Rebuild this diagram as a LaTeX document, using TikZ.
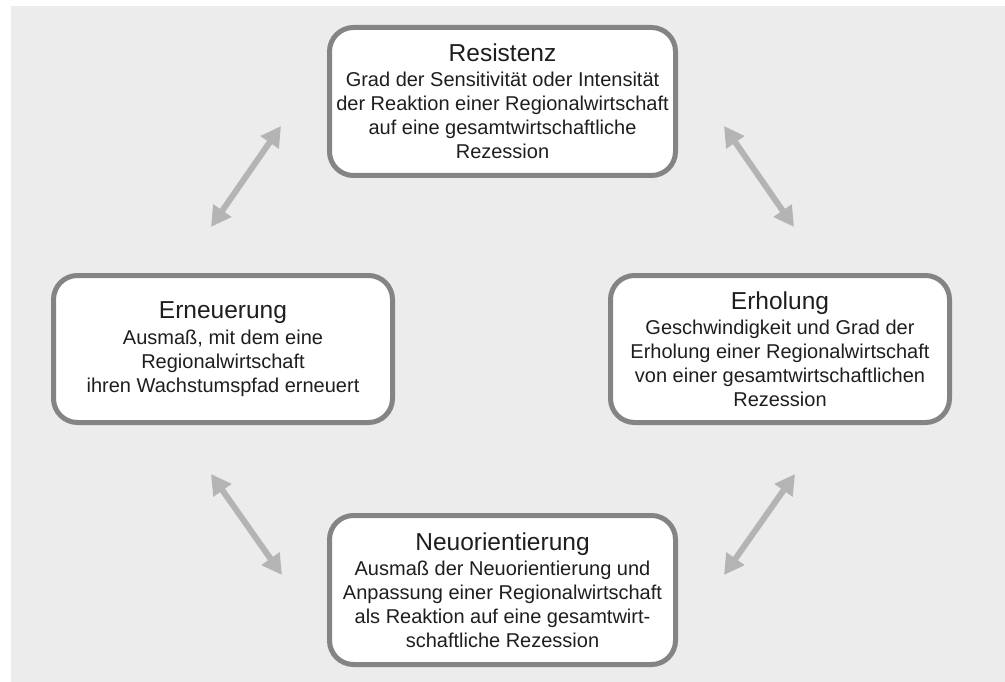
\documentclass[tikz,border=0pt]{standalone}
\usepackage{fontspec}
\setmainfont{Liberation Sans}
\usetikzlibrary{arrows.meta}
\definecolor{bggray}{HTML}{ECECEC}
\definecolor{boxborder}{HTML}{848484}
\definecolor{arrowgray}{HTML}{B4B4B4}
\definecolor{txt}{HTML}{1E1E1E}
\tikzset{
  box/.style={draw=boxborder, line width=5pt, fill=white, rounded corners=24pt,
    align=center, text=txt, font=\fontsize{20}{24}\selectfont, inner sep=0pt},
  dbl/.style={draw=arrowgray, line width=6pt,
    {Triangle[length=20pt,width=21pt]}-{Triangle[length=20pt,width=21pt]}}
}
\newcommand{\boxtitle}[1]{{\fontsize{24.5}{24}\selectfont #1}\\[1.4pt]}
\begin{document}
\begin{tikzpicture}[x=1pt,y=-1pt]
\useasboundingbox (0,0) rectangle (1005,682);
\fill[bggray] (11,6) rectangle (1005,682);

\node[box, minimum width=346pt, minimum height=148pt] (res) at (502.5,101.5)
  {\boxtitle{Resistenz}Grad der Sensitivität oder Intensität\\der Reaktion einer Regionalwirtschaft\\auf eine gesamtwirtschaftliche\\Rezession};
\node[box, minimum width=339pt, minimum height=147pt] (ern) at (223,349)
  {\boxtitle{Erneuerung}Ausmaß, mit dem eine\\Regionalwirtschaft\\ihren Wachstumspfad erneuert};
\node[box, minimum width=339pt, minimum height=147pt] (erh) at (780,349)
  {\boxtitle{Erholung}Geschwindigkeit und Grad der\\Erholung einer Regionalwirtschaft\\von einer gesamtwirtschaftlichen\\Rezession};
\node[box, minimum width=346pt, minimum height=149pt] (neu) at (502.5,590)
  {\boxtitle{Neuorientierung}Ausmaß der Neuorientierung und\\Anpassung einer Regionalwirtschaft\\als Reaktion auf eine gesamtwirt-\\schaftliche Rezession};

\coordinate (a1s) at (211,227); \coordinate (a1e) at (281,126);
\coordinate (a2s) at (724,126); \coordinate (a2e) at (794,227);
\coordinate (a3s) at (211,474); \coordinate (a3e) at (282,575);
\coordinate (a4s) at (795,474); \coordinate (a4e) at (724,575);
\draw[dbl] (a1s) -- (a1e);
\draw[dbl] (a2s) -- (a2e);
\draw[dbl] (a3s) -- (a3e);
\draw[dbl] (a4s) -- (a4e);
\end{tikzpicture}
\end{document}
